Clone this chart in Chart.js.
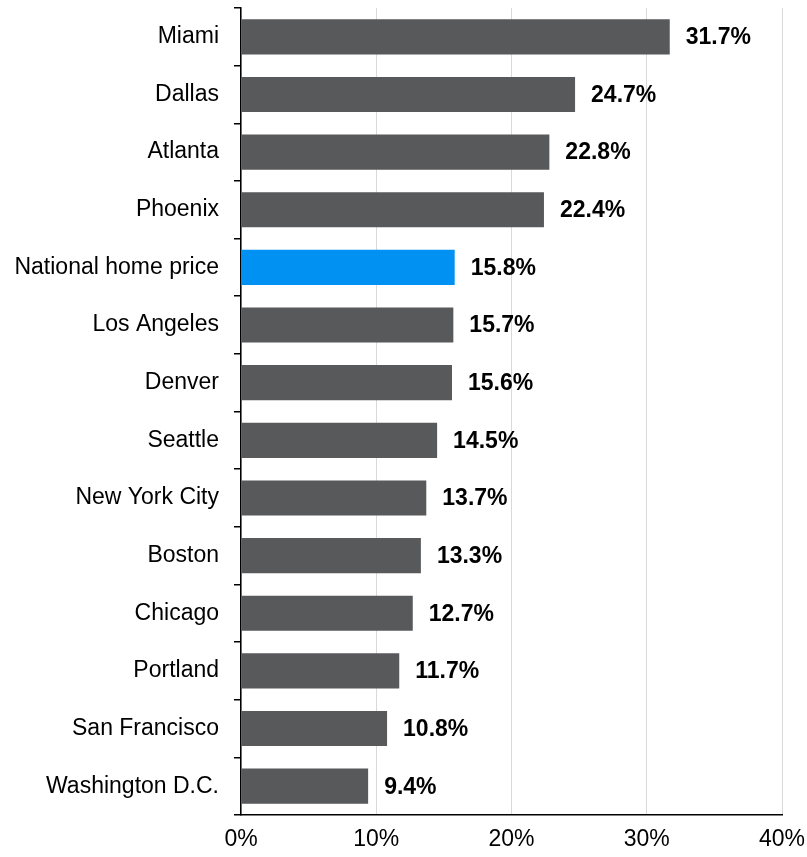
<!DOCTYPE html>
<html>
<head>
<meta charset="utf-8">
<script src="https://cdn.jsdelivr.net/npm/chart.js@4.4.1/dist/chart.umd.min.js"></script>
<style>
  html, body { margin: 0; padding: 0; background: #fff; }
  #wrap { width: 807px; height: 857px; }
</style>
</head>
<body>
<div id="wrap"><canvas id="chart" width="807" height="857"></canvas></div>
<script>
// metro areas, top to bottom
const cities = [
    'Miami', 'Dallas', 'Atlanta', 'Phoenix', 'National home price', 'Los Angeles',
    'Denver', 'Seattle', 'New York City', 'Boston', 'Chicago', 'Portland',
    'San Francisco', 'Washington D.C.'
];
const priceGrowth = [31.7, 24.7, 22.8, 22.4, 15.8, 15.7, 15.6, 14.5, 13.7, 13.3, 12.7, 11.7, 10.8, 9.4];
const xTicks = [0, 10, 20, 30, 40];

const GRAY = '#58595B';
const BLUE = '#0091F2';
const FONT = "'Liberation Sans', Arial, sans-serif";

const barColors = cities.map(c => c === 'National home price' ? BLUE : GRAY);

// value labels to the right of each bar
const valueLabels = {
    id: 'valueLabels',
    afterDatasetsDraw(chart) {
        const ctx = chart.ctx;
        const meta = chart.getDatasetMeta(0);
        ctx.save();
        ctx.font = 'bold 23px ' + FONT;
        ctx.fillStyle = '#000';
        ctx.textAlign = 'left';
        ctx.textBaseline = 'middle';
        meta.data.forEach((bar, i) => {
            ctx.fillText(priceGrowth[i].toFixed(1) + '%', bar.x + 16, bar.y + 1);
        });
        ctx.restore();
    }
};

new Chart(document.getElementById('chart'), {
    type: 'bar',
    data: {
        labels: cities,
        datasets: [{
            data: priceGrowth,
            backgroundColor: barColors,
            borderWidth: 0,
            barPercentage: 0.61,
            categoryPercentage: 1
        }]
    },
    options: {
        indexAxis: 'y',
        responsive: false,
        animation: false,
        layout: { padding: { top: 8, right: 25, left: 0, bottom: 0 } },
        scales: {
            x: {
                min: 0,
                max: 40,
                afterBuildTicks: (scale) => { scale.ticks = xTicks.map(v => ({ value: v })); },
                afterFit: (scale) => {
                    scale.height = 42;
                    scale.paddingLeft = 0;
                    scale.paddingRight = 0;
                },
                grid: { color: '#D9D9D9', lineWidth: 1, drawTicks: false },
                border: { display: true, color: '#000', width: 1.5 },
                ticks: {
                    padding: 11,
                    color: '#000',
                    font: { family: FONT, size: 23 },
                    callback: (v) => v + '%'
                }
            },
            y: {
                afterFit: (scale) => {
                    scale.width = 241;
                    scale.paddingTop = 0;
                    scale.paddingBottom = 0;
                },
                grid: { offset: true, drawOnChartArea: false, drawTicks: true, tickLength: 7, color: '#000', lineWidth: 1.5 },
                border: { display: true, color: '#000', width: 1.5 },
                ticks: {
                    padding: 15,
                    color: '#000',
                    font: { family: FONT, size: 23 }
                }
            }
        },
        plugins: {
            legend: { display: false },
            tooltip: { enabled: false }
        }
    },
    plugins: [valueLabels]
});
</script>
</body>
</html>
